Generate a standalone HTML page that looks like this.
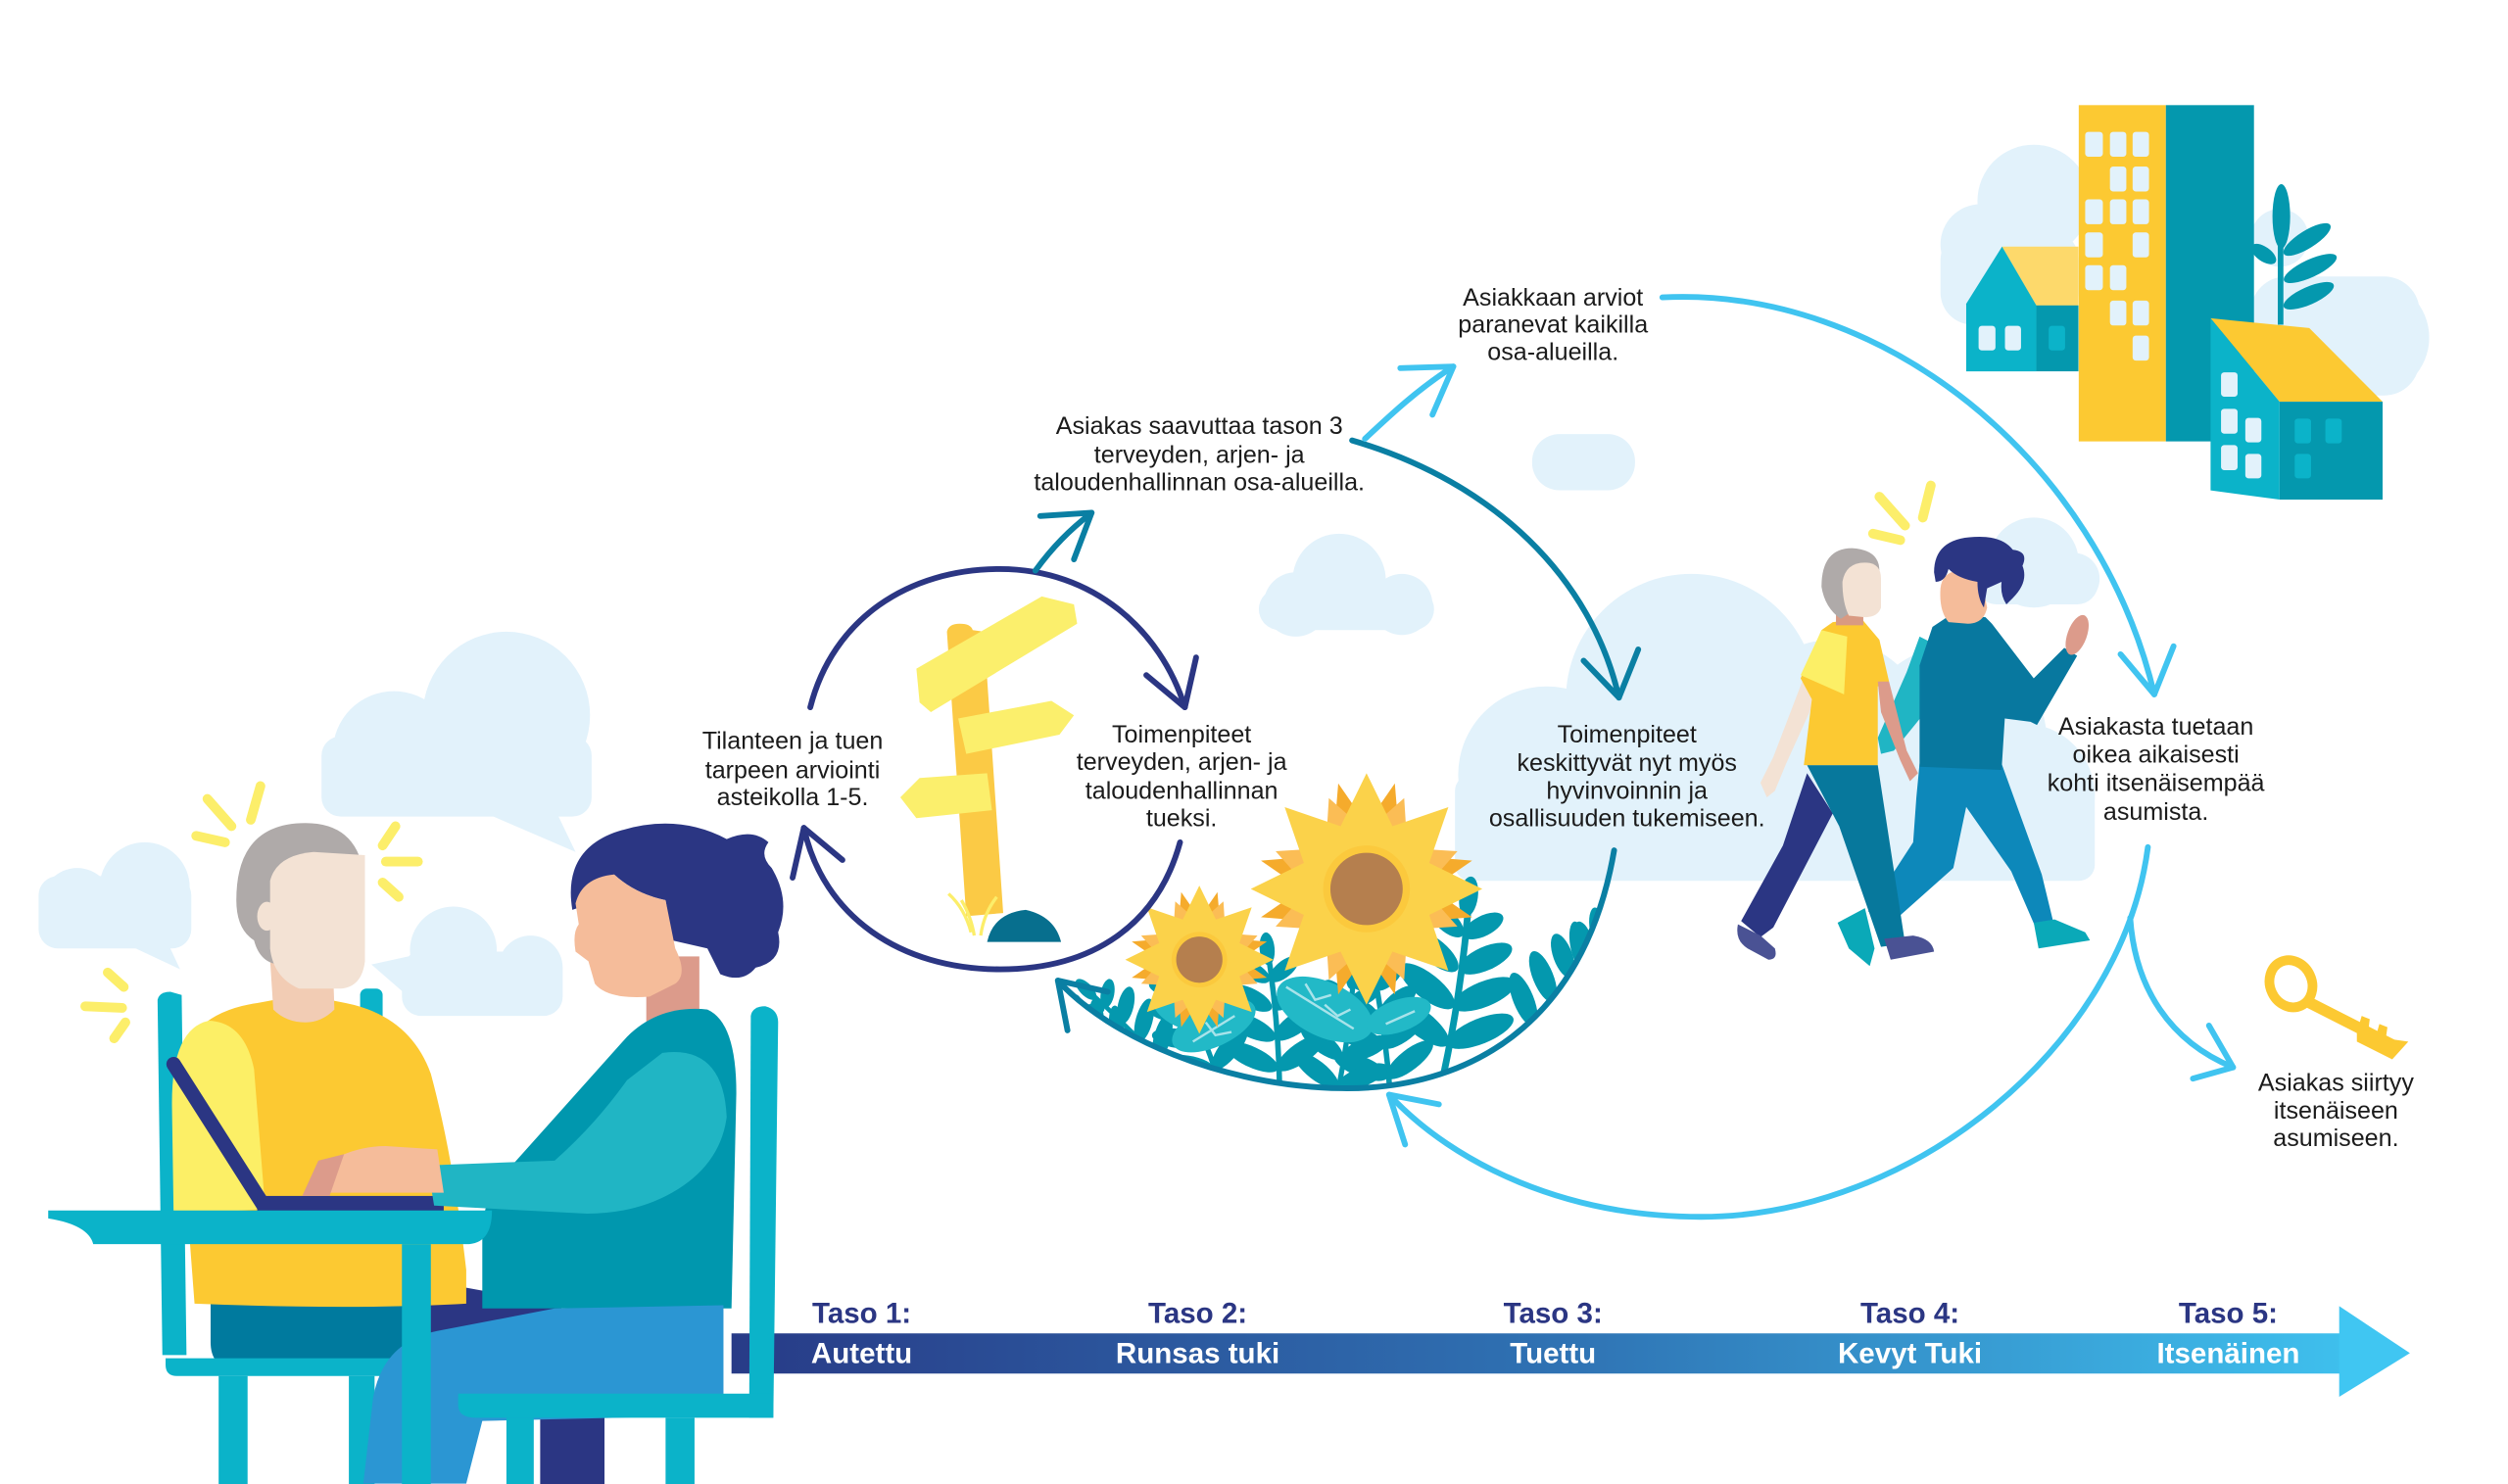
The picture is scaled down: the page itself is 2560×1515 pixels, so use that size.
<!DOCTYPE html>
<html><head><meta charset="utf-8">
<style>
html,body{margin:0;padding:0;background:#fff;}
svg{display:block;}
.t{font-family:"Liberation Sans",sans-serif;font-size:15.3px;fill:#1b1b1b;text-anchor:middle;}
.b{font-family:"Liberation Sans",sans-serif;font-size:18px;font-weight:bold;text-anchor:middle;}
</style></head><body>
<svg width="2560" height="1515" viewBox="0 0 1560 923.2" preserveAspectRatio="none" xmlns="http://www.w3.org/2000/svg" xmlns:xlink="http://www.w3.org/1999/xlink">
<defs>
<linearGradient id="bar" x1="455" y1="0" x2="1499" y2="0" gradientUnits="userSpaceOnUse">
<stop offset="0" stop-color="#283b87"/><stop offset="0.5" stop-color="#2f73b4"/><stop offset="1" stop-color="#40c6f2"/>
</linearGradient>
<polygon id="pb" points="0,-68 -15,-26 0,-18 15,-26"/>
<polygon id="pf" points="0,-72 -23,-25 0,-16 23,-25"/>
<g id="frond" fill="#0498ae">
<path d="M0 0 Q4 -55 0 -110" fill="none" stroke="#0498ae" stroke-width="4"/>
<ellipse cx="18" cy="-28" rx="21" ry="7.5" transform="rotate(-30 18 -28)"/>
<ellipse cx="-18" cy="-28" rx="21" ry="7.5" transform="rotate(30 -18 -28)"/>
<ellipse cx="17" cy="-50" rx="20" ry="7.5" transform="rotate(-30 17 -50)"/>
<ellipse cx="-17" cy="-50" rx="20" ry="7.5" transform="rotate(30 -17 -50)"/>
<ellipse cx="15" cy="-71" rx="17" ry="7" transform="rotate(-32 15 -71)"/>
<ellipse cx="-15" cy="-71" rx="17" ry="7" transform="rotate(32 -15 -71)"/>
<ellipse cx="11" cy="-90" rx="13" ry="6" transform="rotate(-35 11 -90)"/>
<ellipse cx="-11" cy="-90" rx="13" ry="6" transform="rotate(35 -11 -90)"/>
<ellipse cx="0" cy="-106" rx="5.5" ry="12"/>
</g>
<g id="sun">
<g fill="#f5ab2c">
<use href="#pb" transform="rotate(15)"/><use href="#pb" transform="rotate(45)"/><use href="#pb" transform="rotate(75)"/><use href="#pb" transform="rotate(105)"/><use href="#pb" transform="rotate(135)"/><use href="#pb" transform="rotate(165)"/><use href="#pb" transform="rotate(195)"/><use href="#pb" transform="rotate(225)"/><use href="#pb" transform="rotate(255)"/><use href="#pb" transform="rotate(285)"/><use href="#pb" transform="rotate(315)"/><use href="#pb" transform="rotate(345)"/>
</g>
<g fill="#fbbd55">
<use href="#pf" transform="rotate(22.5) scale(0.85)"/><use href="#pf" transform="rotate(67.5) scale(0.85)"/><use href="#pf" transform="rotate(112.5) scale(0.85)"/><use href="#pf" transform="rotate(157.5) scale(0.85)"/><use href="#pf" transform="rotate(202.5) scale(0.85)"/><use href="#pf" transform="rotate(247.5) scale(0.85)"/><use href="#pf" transform="rotate(292.5) scale(0.85)"/><use href="#pf" transform="rotate(337.5) scale(0.85)"/>
</g>
<g fill="#fbd24a">
<use href="#pf" transform="rotate(0)"/><use href="#pf" transform="rotate(45)"/><use href="#pf" transform="rotate(90)"/><use href="#pf" transform="rotate(135)"/><use href="#pf" transform="rotate(180)"/><use href="#pf" transform="rotate(225)"/><use href="#pf" transform="rotate(270)"/><use href="#pf" transform="rotate(315)"/>
</g>
<circle r="27" fill="#fbc93d"/><circle r="22.5" fill="#b57f4e"/>
</g>
<clipPath id="bowl"><path d="M658 610 C690 645 760 676 835 677 C910 678 985 640 1004 529 L1004 470 L650 470 Z"/></clipPath>
</defs>

<rect width="1560" height="923.2" fill="#fff"/>

<!-- CLOUDS -->
<g fill="#e2f2fb">
<circle cx="315" cy="445" r="52"/><circle cx="245" cy="468" r="38"/>
<rect x="200" y="458" width="168" height="50" rx="12"/>
<polygon points="300,505 358,530 346,505"/>
<circle cx="90" cy="552" r="28"/><circle cx="48" cy="562" r="22"/>
<rect x="24" y="545" width="95" height="45" rx="12"/>
<polygon points="80,588 112,603 105,588"/>
<circle cx="282" cy="591" r="27"/><circle cx="330" cy="602" r="20"/>
<rect x="250" y="592" width="100" height="40" rx="12"/>
<polygon points="254,595 231,600 254,620"/>
<rect x="783" y="366" width="109" height="26" rx="13"/>
<circle cx="833" cy="361" r="29"/><circle cx="806" cy="376" r="20"/><circle cx="872" cy="376" r="19"/>
<rect x="953" y="270" width="64" height="35" rx="17"/>
<circle cx="962" cy="482" r="55"/><circle cx="1052" cy="435" r="78"/><circle cx="1140" cy="458" r="60"/>
<circle cx="1215" cy="460" r="58"/><circle cx="1258" cy="495" r="45"/>
<rect x="905" y="482" width="398" height="66" rx="10"/>
<circle cx="1265" cy="350" r="28"/><circle cx="1290" cy="360" r="16"/>
<rect x="1229" y="348" width="76" height="28" rx="13"/>
<circle cx="1265" cy="125" r="35"/><circle cx="1232" cy="152" r="25"/>
<rect x="1207" y="142" width="86" height="60" rx="20"/>
<circle cx="1418" cy="148" r="18"/><circle cx="1475" cy="210" r="36"/>
<rect x="1400" y="172" width="105" height="74" rx="22"/>
</g>

<g stroke="#fcee6a" stroke-width="6" stroke-linecap="round" fill="none">
<path d="M129 497 L144 514"/><path d="M162 489 L156 510"/><path d="M122 520 L140 524"/>
<path d="M246 514 L238 526"/><path d="M240 536 L260 536"/><path d="M238 549 L248 558"/>
<path d="M67 605 L77 614"/><path d="M53 626 L76 627"/><path d="M71 646 L78 636"/>
</g>

<g fill="#0bb3c9">
<path d="M98 622 Q99 617 106 617 L113 619 L116 843 L101 843 Z"/>
<rect x="224" y="615" width="14" height="30" rx="4"/>
</g>
<path d="M131 800 L252 800 L252 852 L145 852 Q131 850 131 835 Z" fill="#007a9e"/>
<path d="M262 796 L350 812 L345 824 L262 832 Z" fill="#2b3683"/>
<path d="M110 665 Q118 630 160 624 L176 621 Q190 632 200 621 L215 624 Q255 632 268 668 Q282 720 290 790 L290 811 Q220 815 121 811 Z" fill="#fcc932"/>
<path d="M107 690 Q106 640 130 635 Q152 636 158 665 L165 752 L108 756 Z" fill="#fcef66"/>
<path d="M168 597 L207 597 L208 628 Q200 636 190 636 Q178 636 170 628 Z" fill="#f2ccb4"/>
<path d="M147 560 Q147 512 190 512 Q227 512 227 555 L227 590 L175 600 Q162 600 158 585 Q147 578 147 560 Z" fill="#afaaa9"/>
<path d="M168 548 Q172 532 195 530 L227 532 L227 598 Q225 614 212 615 L186 615 Q170 608 168 590 Z" fill="#f3e2d4"/>
<ellipse cx="166" cy="570" rx="6" ry="9" fill="#f3e2d4"/>

<rect x="402" y="595" width="33" height="45" fill="#dc9b8b"/>
<path d="M356 566 Q350 530 382 518 Q420 505 452 522 Q468 515 478 524 Q472 532 480 540 Q492 560 484 580 Q488 598 470 602 Q462 612 448 606 L440 590 L418 585 L414 560 Q395 556 382 544 Q376 560 356 566 Z" fill="#2b3683"/>
<path d="M358 562 Q362 546 382 544 Q395 556 414 560 L420 590 Q428 606 420 612 L404 620 Q378 622 370 612 L366 598 L358 592 Q356 580 360 575 Z" fill="#f5bc9a"/>
<path d="M305 740 L390 645 Q410 625 440 628 Q458 636 458 680 L455 814 L300 814 L300 760 Z" fill="#0097ae"/>
<rect x="336" y="878" width="40" height="46" fill="#2b3683"/>
<g fill="#0bb3c9">
<path d="M103 845 L255 845 L255 856 L110 856 Q103 856 103 849 Z"/>
<rect x="136" y="856" width="18" height="68"/><rect x="217" y="856" width="16" height="68"/>
</g>
<path d="M226 923 L232 870 Q238 835 272 828 L345 814 L450 812 L450 868 Q444 880 424 881 L300 884 L290 923 Z" fill="#2b96d3"/>
<path d="M108 662 L164 750" stroke="#2b3683" stroke-width="9" stroke-linecap="round"/>
<rect x="160" y="744" width="116" height="10" fill="#2b3683"/>
<path d="M412 655 Q450 650 452 695 Q448 725 418 742 Q395 755 365 755 L270 750 L266 725 L345 722 Q370 700 390 672 Z" fill="#20b5c4"/>
<path d="M196 742 L206 722 Q222 713 240 713 L272 715 L276 742 Z" fill="#f5bc9a"/>
<path d="M188 744 L198 722 L214 718 L205 744 Z" fill="#dc9b8b"/>
<g fill="#0bb3c9">
<path d="M30 753 L306 753 Q306 774 290 774 L58 774 Q55 762 30 758 Z"/>
<rect x="250" y="774" width="18" height="150"/>
</g>

<rect x="455" y="829.5" width="1002" height="25" fill="url(#bar)"/>
<polygon points="1455,812.5 1499,841.8 1455,869" fill="#40c6f2"/>
<g fill="#0bb3c9">
<path d="M467 632 Q468 626 476 626 Q484 628 484 636 L481 882 L466 882 Z"/>
<path d="M285 867 L481 867 L481 882 L296 882 Q285 882 285 874 Z"/>
<rect x="315" y="882" width="17" height="42"/><rect x="414" y="882" width="18" height="42"/>
</g>
<g class="b" fill="#2b3683">
<text x="536" y="823">Taso 1:</text><text x="745" y="823">Taso 2:</text><text x="966" y="823">Taso 3:</text><text x="1188" y="823">Taso 4:</text><text x="1386" y="823">Taso 5:</text>
</g>
<g class="b" fill="#ffffff">
<text x="536" y="848">Autettu</text><text x="745" y="848">Runsas tuki</text><text x="966" y="848">Tuettu</text><text x="1188" y="848">Kevyt Tuki</text><text x="1386" y="848">Itsenäinen</text>
</g>

<!-- SIGNPOST -->
<path d="M589 393 Q590 388 597 388 Q604 388 605 392 L612 393 L624 568 L601 570 Z" fill="#fbca45"/>
<polygon points="570,416 648,371 668,376 670,388 579,443 572,437" fill="#fbef6c"/>
<polygon points="596,447 654,436 668,445 659,457 601,469" fill="#fbef6c"/>
<polygon points="560,496 572,484 614,481 617,504 570,509" fill="#fbef6c"/>
<g stroke="#fcee6a" stroke-width="2" fill="none">
<path d="M590 556 Q600 565 604 580"/><path d="M598 560 Q604 570 606 582"/><path d="M620 558 Q612 568 610 582"/>
</g>
<path d="M614 586 Q618 568 638 566 Q656 570 660 586 Z" fill="#076f8e"/>

<!-- LEAVES + SUNFLOWERS -->
<g clip-path="url(#bowl)">
<use href="#frond" transform="translate(898,668) rotate(8) scale(1.05)"/>
<use href="#frond" transform="translate(945,650) rotate(38) scale(0.85)"/>
<use href="#frond" transform="translate(975,610) rotate(50) scale(0.7)"/>
<use href="#frond" transform="translate(865,685) rotate(-8) scale(0.85)"/>
<use href="#frond" transform="translate(830,690) rotate(8) scale(0.8)"/>
<use href="#frond" transform="translate(796,680) rotate(-5) scale(0.85)"/>
<use href="#frond" transform="translate(760,678) rotate(-22) scale(0.8)"/>
<use href="#frond" transform="translate(728,668) rotate(-45) scale(0.7)"/>
<use href="#frond" transform="translate(705,655) rotate(-65) scale(0.6)"/>
<g fill="#22b9c7">
<ellipse cx="824" cy="628" rx="32" ry="17" transform="rotate(25 824 628)"/>
<ellipse cx="870" cy="632" rx="21" ry="10" transform="rotate(-20 870 632)"/>
<ellipse cx="755" cy="638" rx="28" ry="13" transform="rotate(-25 755 638)"/>
<ellipse cx="733" cy="628" rx="18" ry="10" transform="rotate(30 733 628)"/>
</g>
<g stroke="#a8e3ea" stroke-width="1.5" fill="none">
<path d="M800 614 L842 640"/><path d="M812 612 L818 622 L828 619"/><path d="M824 625 L832 632 L840 628"/>
<path d="M862 637 L880 629"/><path d="M742 648 L768 632"/><path d="M750 636 L756 644 L766 642"/>
</g>
</g>
<use href="#sun" transform="translate(850,553)"/>
<use href="#sun" transform="translate(746,597) scale(0.64)"/>

<!-- CONNECTORS -->
<g fill="none" stroke-linecap="round" stroke-linejoin="round" stroke-width="3.6">
<g stroke="#2b3683">
<path d="M504 440 C518 385 565 354 622 354 C680 354 722 392 737 440"/>
<path d="M713 420 L737 440 L744 409"/>
<path d="M734 524 C720 575 680 603 622 603 C560 603 512 570 500 515"/>
<path d="M493 546 L500 515 L524 535"/>
</g>
<g stroke="#0a7fa3">
<path d="M644 355 C655 340 665 330 679 319"/>
<path d="M647 321 L679 319 L668 348"/>
<path d="M841 274 C930 300 990 360 1007 434"/>
<path d="M985 411 L1007 434 L1019 404"/>
<path d="M1004 529 C985 640 910 678 835 677 C760 676 690 645 658 610"/>
<path d="M689 617 L658 610 L664 641"/>
</g>
<g stroke="#40c4f0">
<path d="M849 273 C865 258 882 242 904 228"/>
<path d="M871 229 L904 228 L891 258"/>
<path d="M1034 185 C1170 178 1305 285 1340 432"/>
<path d="M1319 407 L1340 432 L1352 402"/>
<path d="M1336 527 C1320 650 1190 757 1058 757 C975 757 905 725 864 681"/>
<path d="M895 687 L864 681 L874 712"/>
<path d="M1325 571 C1328 615 1350 648 1389 664"/>
<path d="M1374 638 L1389 664 L1364 671"/>
</g>
</g>

<!-- BUILDINGS -->
<rect x="1293" y="65.4" width="54.2" height="209.2" fill="#fcc932"/>
<rect x="1347.2" y="65.4" width="54.8" height="209.2" fill="#0498ae"/>
<g fill="#e2f2fb">
<rect x="1297" y="82" width="11" height="15.5" rx="2"/><rect x="1312.4" y="82" width="10.2" height="15.5" rx="2"/><rect x="1326.5" y="82" width="10.2" height="15.5" rx="2"/>
<rect x="1312.4" y="103.6" width="10.2" height="15.5" rx="2"/><rect x="1326.5" y="103.6" width="10.2" height="15.5" rx="2"/>
<rect x="1297" y="124" width="11" height="15.5" rx="2"/><rect x="1312.4" y="124" width="10.2" height="15.5" rx="2"/><rect x="1326.5" y="124" width="10.2" height="15.5" rx="2"/>
<rect x="1297" y="144.6" width="11" height="15.5" rx="2"/><rect x="1326.5" y="144.6" width="10.2" height="15.5" rx="2"/>
<rect x="1297" y="165" width="11" height="15.5" rx="2"/><rect x="1312.4" y="165" width="10.2" height="15.5" rx="2"/>
<rect x="1312.4" y="187" width="10.2" height="15.5" rx="2"/><rect x="1326.5" y="187" width="10.2" height="15.5" rx="2"/>
<rect x="1326.5" y="208.8" width="10.2" height="15.5" rx="2"/>
</g>
<polygon points="1245.3,153.4 1292.8,153.4 1292.8,190.3 1266.6,190.3" fill="#fdd96b"/>
<polygon points="1223,189 1245.3,153.4 1266.6,190 1266.6,231 1223,231" fill="#0bb3c9"/>
<rect x="1266.6" y="190" width="26.2" height="41" fill="#0498ae"/>
<rect x="1230.7" y="202.7" width="10.5" height="15.3" rx="2" fill="#e2f2fb"/>
<rect x="1247.1" y="202.7" width="10" height="15.3" rx="2" fill="#e2f2fb"/>
<rect x="1274.3" y="202.7" width="10.2" height="15.3" rx="2" fill="#0bb3c9"/>
<g fill="#0498ae">
<rect x="1416.8" y="150" width="3.5" height="52"/>
<ellipse cx="1419" cy="134.6" rx="5.5" ry="20"/>
<ellipse cx="1435" cy="149" rx="17" ry="5.5" transform="rotate(-32 1435 149)"/>
<ellipse cx="1437" cy="167" rx="18" ry="5.5" transform="rotate(-25 1437 167)"/>
<ellipse cx="1436" cy="184" rx="17" ry="5.5" transform="rotate(-24 1436 184)"/>
<ellipse cx="1408" cy="158" rx="9" ry="4.5" transform="rotate(35 1408 158)"/>
</g>
<polygon points="1375,198 1436.4,204.1 1482,249.9 1417.9,249.9" fill="#fcc932"/>
<polygon points="1375,198 1417.9,249.9 1417.9,310.8 1375,305.1" fill="#0bb3c9"/>
<rect x="1417.9" y="249.9" width="64.1" height="60.9" fill="#0498ae"/>
<g fill="#e2f2fb">
<rect x="1381.5" y="231.6" width="10.3" height="15.2" rx="2"/>
<rect x="1381.5" y="254.3" width="10.3" height="15.5" rx="2"/>
<rect x="1396.6" y="260" width="10" height="15.2" rx="2"/>
<rect x="1381.5" y="276.9" width="10.3" height="15.6" rx="2"/>
<rect x="1396.6" y="282.4" width="10" height="15.2" rx="2"/>
</g>
<g fill="#0bb3c9">
<rect x="1427.3" y="260.4" width="10.2" height="15.4" rx="2"/>
<rect x="1446.4" y="260.4" width="10.2" height="15.4" rx="2"/>
<rect x="1427.3" y="282.4" width="10.2" height="15.2" rx="2"/>
</g>

<!-- WALKING PEOPLE -->
<g stroke="#fcee6a" stroke-width="6" stroke-linecap="round" fill="none">
<path d="M1169 309 L1185 327"/><path d="M1201 302 L1196 322"/><path d="M1165 332 L1182 336"/>
</g>
<polygon points="1131,431 1121,424 1103,471 1095,487 1099,496 1104,492 1111,475" fill="#f3e2d4"/>
<polygon points="1124,481 1140,506 1103,577 1095,583 1083,573 1109,526" fill="#2b3683"/>
<path d="M1081 575 L1095 582 L1104 590 Q1106 597 1100 597 L1087 590 Q1079 585 1081 575 Z" fill="#4a5294"/>
<polygon points="1194,396 1206,402 1204,435 1178,467 1170,469 1168,459 1186,418" fill="#20b5c4"/>
<polygon points="1194,475 1245,475 1270,544 1278,577 1267,579 1251,542 1223,502 1215,540 1178,573 1162,567 1190,524 1192,496" fill="#0d88ba"/>
<polygon points="1143,574 1160,565 1166,590 1163,601 1150,590" fill="#0aa9b8"/>
<polygon points="1265,574 1278,572 1297,580 1300,585 1268,590" fill="#0aa9b8"/>
<polygon points="1212,378 1230,378 1228,392 1220,400 1212,390" fill="#dc9b8b"/>
<polygon points="1202,390 1214,382 1235,384 1239,388 1265,422 1284,403 1292,408 1267,451 1263,449 1247,447 1245,479 1194,477 1194,414" fill="#08789f"/>
<ellipse cx="1292" cy="395" rx="6" ry="13" transform="rotate(20 1292 395)" fill="#dc9b8b"/>
<path d="M1207 366 Q1208 356 1218 355 L1232 358 L1236 378 Q1234 388 1224 388 L1212 387 Q1206 380 1207 366 Z" fill="#f5bc9a"/>
<path d="M1203 356 Q1203 335 1228 334 Q1245 333 1252 342 Q1262 343 1258 352 Q1262 362 1252 372 L1248 376 Q1244 370 1245 362 L1236 366 L1234 378 Q1230 372 1230 362 Q1218 360 1212 354 Q1210 362 1204 362 Z" fill="#2b3683"/>
<polygon points="1124,476 1168,476 1185,587 1170,589 1144,514" fill="#07789c"/>
<path d="M1172 584 L1190 582 Q1202 584 1203 592 L1176 597 Z" fill="#4a5294"/>
<polygon points="1140,387 1158,385 1169,398 1175,424 1168,427 1168,476 1122,476 1127,435 1120,422 1133,392" fill="#fcc932"/>
<polygon points="1120,420 1147,432 1149,396 1133,392" fill="#fcef66"/>
<polygon points="1168,424 1175,424 1186,467 1193,481 1188,486 1182,473 1170,443" fill="#dc9b8b"/>
<rect x="1142" y="377" width="17" height="12" fill="#d99a82"/>
<path d="M1133 365 Q1133 341 1152 341 Q1169 342 1169 355 L1160 375 L1145 385 Q1135 378 1133 365 Z" fill="#afaaa9"/>
<path d="M1146 362 Q1148 350 1160 350 Q1170 350 1170 360 L1170 378 Q1168 384 1160 384 L1150 383 Q1146 375 1146 362 Z" fill="#f3e2d4"/>

<!-- KEY -->
<ellipse cx="1425" cy="612" rx="13" ry="15" transform="rotate(-25 1425 612)" fill="none" stroke="#fcc932" stroke-width="6"/>
<path d="M1435 623 L1490 651" stroke="#fcc932" stroke-width="7"/>
<polygon points="1466,642 1469,632 1474,634 1473,642 1478,644 1480,637 1485,639 1484,646 1498,648 1488,659 1466,648" fill="#fcc932"/>

<!-- TEXT -->
<g class="t">
<text x="493" y="466">Tilanteen ja tuen</text>
<text x="493" y="484">tarpeen arviointi</text>
<text x="493" y="501">asteikolla 1-5.</text>

<text x="735" y="462">Toimenpiteet</text>
<text x="735" y="479">terveyden, arjen- ja</text>
<text x="735" y="497">taloudenhallinnan</text>
<text x="735" y="514">tueksi.</text>

<text x="746" y="270">Asiakas saavuttaa tason 3</text>
<text x="746" y="288">terveyden, arjen- ja</text>
<text x="746" y="305">taloudenhallinnan osa-alueilla.</text>

<text x="966" y="190">Asiakkaan arviot</text>
<text x="966" y="207">paranevat kaikilla</text>
<text x="966" y="224">osa-alueilla.</text>

<text x="1012" y="462">Toimenpiteet</text>
<text x="1012" y="479.5">keskittyvät nyt myös</text>
<text x="1012" y="497">hyvinvoinnin ja</text>
<text x="1012" y="514">osallisuuden tukemiseen.</text>

<text x="1341" y="457">Asiakasta tuetaan</text>
<text x="1341" y="474.5">oikea aikaisesti</text>
<text x="1341" y="492">kohti itsenäisempää</text>
<text x="1341" y="510">asumista.</text>

<text x="1453" y="678.5">Asiakas siirtyy</text>
<text x="1453" y="696">itsenäiseen</text>
<text x="1453" y="713">asumiseen.</text>
</g>
</svg>
</body></html>
